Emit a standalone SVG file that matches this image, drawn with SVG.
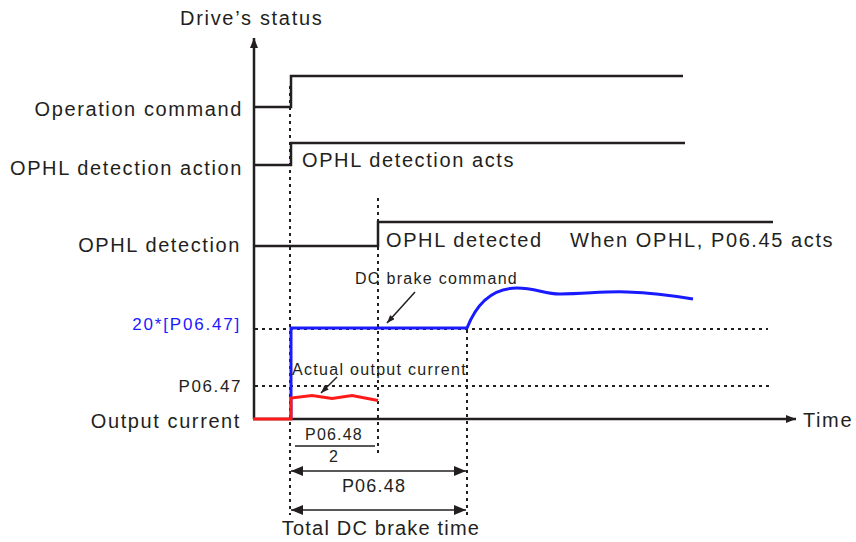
<svg xmlns="http://www.w3.org/2000/svg" width="856" height="542" viewBox="0 0 856 542">
<style>
text{font-family:"Liberation Sans",Arial,sans-serif;fill:#231f20;letter-spacing:1.2px}
.lbl{font-size:20px;letter-spacing:1.6px}
.sm{font-size:16px;letter-spacing:1.3px}
.ln{fill:none;stroke:#231f20;stroke-width:2.5}
.dot{fill:none;stroke:#231f20;stroke-width:2;stroke-dasharray:3 4}
.thin{fill:none;stroke:#231f20;stroke-width:1.5}
</style>
<defs>
<marker id="ah" markerWidth="10" markerHeight="8" refX="10" refY="4" orient="auto" markerUnits="userSpaceOnUse">
<path d="M0,0 L10,4 L0,8 Z" fill="#231f20"/>
</marker>
<marker id="ah2" markerWidth="12" markerHeight="10" refX="12" refY="5" orient="auto-start-reverse" markerUnits="userSpaceOnUse">
<path d="M0,0 L12,5 L0,10 Z" fill="#231f20"/>
</marker>
<marker id="as" markerWidth="8" markerHeight="6" refX="8" refY="3" orient="auto" markerUnits="userSpaceOnUse">
<path d="M0,0 L8,3 L0,6 Z" fill="#231f20"/>
</marker>
</defs>

<g id="axes">
<line class="ln" x1="254" y1="419" x2="254" y2="38" marker-end="url(#ah)"/>
<line class="ln" x1="253" y1="419" x2="796" y2="419" marker-end="url(#ah)"/>
<text class="lbl" x="180" y="25" style="letter-spacing:1.7px">Drive’s status</text>
<text class="lbl" x="803" y="427">Time</text>
</g>

<g id="guides">
<line class="dot" x1="290" y1="86" x2="290" y2="515"/>
<line class="dot" x1="378" y1="198" x2="378" y2="456"/>
<line class="dot" x1="467" y1="330" x2="467" y2="518"/>
<line class="dot" x1="255" y1="329" x2="768" y2="329"/>
<line class="dot" x1="255" y1="386" x2="770" y2="386"/>
</g>

<g id="operation-command">
<text class="lbl" x="243" y="116" text-anchor="end">Operation command</text>
<polyline class="ln" points="254,107 291,107 291,76 683,76"/>
</g>

<g id="ophl-detection-action">
<text class="lbl" x="243" y="175" text-anchor="end">OPHL detection action</text>
<polyline class="ln" points="254,165 291,165 291,143 685,143"/>
<text class="lbl" x="302" y="167">OPHL detection acts</text>
</g>

<g id="ophl-detection">
<text class="lbl" x="241" y="252" text-anchor="end">OPHL detection</text>
<polyline class="ln" points="254,246 378,246 378,222 773,222"/>
<text class="lbl" x="386" y="247">OPHL detected</text>
<text class="lbl" x="570" y="247">When OPHL, P06.45 acts</text>
</g>

<g id="dc-brake-command">
<text x="241" y="330" text-anchor="end" style="font-size:17px;letter-spacing:1.8px;fill:#1a1aff">20*[P06.47]</text>
<path d="M291,419 V328 H467 C478,300 495,288 517,288 C535,288 545,294 560,294 C585,294 605,291 627,292 C655,293 675,296 693,299" fill="none" stroke="#1a1aff" stroke-width="3"/>
<text class="sm" x="355" y="284">DC brake command</text>
<line class="thin" x1="415" y1="292" x2="387" y2="323" marker-end="url(#as)"/>
</g>

<g id="output-current">
<text x="242" y="392" text-anchor="end" style="font-size:17px;letter-spacing:1.6px">P06.47</text>
<text class="lbl" x="241" y="428" text-anchor="end">Output current</text>
<path d="M253,419 H291 V398 L312,395.5 L332,398.5 L352,395.5 L378,400.5" fill="none" stroke="#ff1a1a" stroke-width="3"/>
<text class="sm" x="292" y="375">Actual output current</text>
<line class="thin" x1="337" y1="377" x2="321" y2="393" marker-end="url(#as)"/>
</g>

<g id="timing">
<text x="334" y="440" text-anchor="middle" style="font-size:16px">P06.48</text>
<line class="thin" x1="295" y1="446" x2="375" y2="446"/>
<text x="334" y="462" text-anchor="middle" style="font-size:16px">2</text>
<line class="thin" x1="291" y1="471" x2="466" y2="471" marker-start="url(#ah2)" marker-end="url(#ah2)"/>
<text x="374" y="492" text-anchor="middle" style="font-size:18px">P06.48</text>
<line class="thin" x1="291" y1="510" x2="466" y2="510" marker-start="url(#ah2)" marker-end="url(#ah2)"/>
<text class="lbl" x="381" y="535" text-anchor="middle" style="letter-spacing:1.2px">Total DC brake time</text>
</g>
</svg>
